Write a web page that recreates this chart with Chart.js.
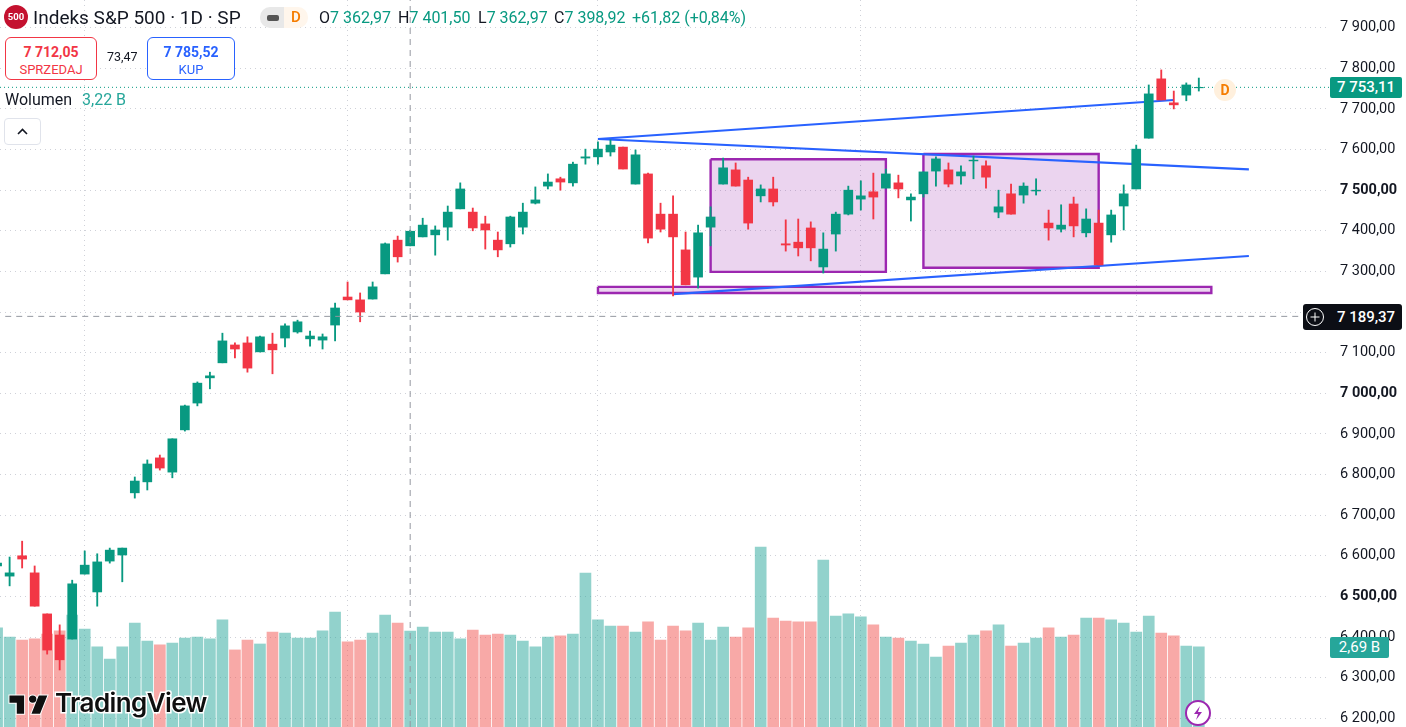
<!DOCTYPE html>
<html lang="pl">
<head>
  <meta charset="UTF-8">
  <title>Indeks S&amp;P 500 - 1D</title>
  <script src="https://cdn.jsdelivr.net/npm/chart.js"></script>
  <style>
    html, body { margin: 0; padding: 0; background: #fff; overflow: hidden; }
    #wrap { position: relative; width: 1406px; height: 727px; font-family: Roboto, sans-serif; color: #131722; }
    canvas { position: absolute; left: 0; top: 0; }
    .t { position: absolute; white-space: nowrap; line-height: 1; }
    .g { color: #089981; }
    .box { position: absolute; top: 37px; height: 41px; border: 1px solid; border-radius: 6px; background: #fff; text-align: center; box-sizing: content-box; }
    .box b { display: block; font-size: 14px; margin-top: 6px; line-height: 16px; }
    .box span { display: block; font-size: 13px; margin-top: 2px; line-height: 15px; }
    .badge { position: absolute; color: #fff; font-size: 15px; text-align: center; }
  </style>
</head>
<body>
<div id="wrap">
  <canvas id="chart" width="1406" height="727"></canvas>

  <!-- symbol row -->
  <div style="position:absolute;left:4px;top:5px;width:24px;height:24px;border-radius:50%;background:#c4112f;color:#fff;font-size:9.5px;font-weight:700;text-align:center;line-height:24px;">500</div>
  <div class="t" style="left:33px;top:8px;font-size:19px;">Indeks S&amp;P 500 · 1D · SP</div>
  <div style="position:absolute;left:260px;top:7px;width:24px;height:21px;background:#e8e8e8;border-radius:10px 0 0 10px;"></div>
  <div style="position:absolute;left:267px;top:15px;width:12px;height:6px;background:#555;border-radius:2px;"></div>
  <div style="position:absolute;left:284px;top:7px;width:24px;height:21px;background:#fff6ec;border-radius:0 10px 10px 0;"></div>
  <div class="t" style="left:291px;top:10px;font-size:15px;font-weight:500;color:#f57c00;">D</div>
  <div class="t" style="left:319px;top:10px;font-size:16px;">O<span class="g">7 362,97</span></div>
  <div class="t" style="left:398px;top:10px;font-size:16px;">H<span class="g">7 401,50</span></div>
  <div class="t" style="left:478px;top:10px;font-size:16px;">L<span class="g">7 362,97</span></div>
  <div class="t" style="left:554px;top:10px;font-size:16px;">C<span class="g">7 398,92</span></div>
  <div class="t g" style="left:632px;top:10px;font-size:16px;">+61,82 (+0,84%)</div>

  <!-- buy / sell -->
  <div class="box" style="left:5px;width:90px;border-color:#f23645;color:#f23645;"><b>7 712,05</b><span>SPRZEDAJ</span></div>
  <div class="t" style="left:107px;top:51px;font-size:12.5px;">73,47</div>
  <div class="box" style="left:147px;width:86px;border-color:#2962ff;color:#2962ff;"><b>7 785,52</b><span>KUP</span></div>

  <div class="t" style="left:5px;top:92px;font-size:16px;">Wolumen</div>
  <div class="t" style="left:82px;top:92px;font-size:16px;color:#26a69a;">3,22 B</div>
  <div style="position:absolute;left:4px;top:118px;width:35px;height:25px;border:1px solid #e0e3eb;border-radius:4px;background:#fff;">
    <svg width="35" height="25"><path d="M13 15l4.5-4.5L22 15" fill="none" stroke="#131722" stroke-width="1.6"/></svg>
  </div>

  <!-- session marker -->
  <div style="position:absolute;left:1214px;top:79px;width:22px;height:22px;border-radius:50%;background:#fff0dd;color:#f57c00;font-size:14px;font-weight:700;text-align:center;line-height:22px;">D</div>

  <!-- price axis badges -->
  <div class="badge" style="left:1330px;top:77px;width:72px;height:21px;line-height:21px;background:#089981;border-radius:2px;font-weight:500;">7 753,11</div>
  <div class="badge" style="left:1303px;top:304px;width:99px;height:26px;line-height:26px;background:#0c0e15;border-radius:3px;font-weight:500;padding-left:27px;box-sizing:border-box;">7 189,37</div>
  <svg style="position:absolute;left:1305px;top:307px;" width="20" height="20"><circle cx="10" cy="10" r="8.5" fill="none" stroke="#fff"/><path d="M10 5.5v9M5.5 10h9" stroke="#fff"/></svg>
  <div class="badge" style="left:1330px;top:637px;width:59px;height:21px;line-height:21px;background:#26a69a;border-radius:2px;">2,69 B</div>

  <!-- logo -->
  <svg style="position:absolute;left:7px;top:690px;" width="44" height="28" viewBox="0 0 36 22"><path d="M14 4H2v6h6v9h6V4zm13 15h-7l6-15h7l-6 15zm-6-9a3 3 0 1 0 0-6 3 3 0 0 0 0 6z" fill="#0f0f0f" stroke="#fff" stroke-width="1.6" paint-order="stroke"/></svg>
  <div class="t" style="left:55px;top:690px;font-family:Inter,sans-serif;font-size:26px;font-weight:600;letter-spacing:-0.6px;color:#0f0f0f;-webkit-text-stroke:3px #fff;paint-order:stroke fill;">TradingView</div>

  <!-- lightning -->
  <svg style="position:absolute;left:1184px;top:699px;" width="28" height="28"><circle cx="14" cy="14" r="12" fill="#fff" stroke="#9c27b0" stroke-width="2"/><path d="M16 7l-6 8h4l-2 6 6-8h-4z" fill="#9c27b0"/></svg>
</div>

<script>
  const opens = [6575,6550,6600,6558,6457,6405,6395,6555,6511,6587,6602,6755,6782,6841,6806,6910,6976,7038,7075,7119,7124,7102,7121,7136,7151,7134,7131,7168,7237,7230,7232,7294,7377,7362.97,7385,7390,7409,7454,7446,7417,7377,7368,7409,7468,7510,7528,7518,7579,7582,7594,7606,7515,7540,7441,7441,7353,7286,7409,7515,7550,7525,7486,7503,7368,7372,7407,7311,7392,7441,7478,7496,7505,7518,7476,7491,7547,7550,7535,7572,7560,7446,7491,7488,7498,7419,7404,7466,7395,7419,7390,7461,7503,7628,7774,7715,7734,7752];
  const highs = [6590,6597,6636,6575,6457,6430,6540,6612,6605,6619,6619,6794,6836,6848,6888,6971,7028,7052,7148,7124,7139,7141,7148,7171,7180,7153,7146,7222,7274,7247,7274,7370,7387,7401.5,7431,7412,7461,7518,7456,7436,7397,7436,7468,7508,7540,7532,7569,7601,7619,7624,7606,7599,7542,7468,7486,7397,7414,7459,7579,7567,7532,7513,7532,7427,7429,7422,7395,7446,7510,7523,7542,7552,7537,7491,7545,7582,7567,7560,7584,7572,7500,7515,7518,7528,7451,7464,7483,7454,7451,7451,7513,7611,7759,7796,7744,7764,7776];
  const lows = [6565,6526,6570,6476,6358,6319,6395,6555,6476,6582,6536,6742,6762,6811,6792,6907,6969,7011,7075,7087,7052,7102,7048,7114,7148,7116,7109,7129,7230,7176,7232,7294,7323,7362.97,7385,7340,7377,7454,7400,7355,7336,7360,7392,7466,7503,7500,7510,7564,7564,7584,7552,7515,7370,7397,7240,7267,7259,7363,7515,7510,7404,7471,7461,7350,7338,7326,7296,7350,7439,7451,7429,7505,7481,7424,7483,7510,7508,7515,7528,7505,7432,7441,7468,7488,7377,7397,7385,7385,7316,7372,7402,7503,7628,7722,7700,7720,7744];
  const closes = [6582,6558,6592,6476,6368,6344,6531,6577,6585,6614,6619,6784,6826,6816,6888,6969,7025,7043,7129,7109,7062,7139,7107,7166,7176,7141,7139,7210,7230,7200,7262,7368,7336,7398.92,7414,7402,7446,7503,7407,7402,7353,7434,7446,7476,7520,7520,7564,7582,7601,7611,7552,7587,7382,7404,7385,7267,7395,7434,7555,7510,7419,7503,7471,7365,7358,7358,7355,7441,7500,7486,7483,7540,7503,7483,7545,7577,7515,7545,7574,7532,7459,7441,7510,7500,7407,7414,7412,7429,7316,7439,7491,7601,7737,7722,7710,7759,7753.11];
  const volumes = [3.33,3.02,2.92,2.96,3.12,3.23,3.76,3.29,2.69,2.28,2.69,3.49,2.89,2.76,2.82,2.99,3.02,2.96,3.60,2.59,2.92,2.79,3.19,3.16,2.99,2.99,3.23,3.86,2.86,2.92,3.16,3.76,3.49,3.22,3.36,3.19,3.19,2.96,3.26,3.09,3.12,3.09,2.89,2.69,3.02,3.06,3.12,5.17,3.60,3.39,3.39,3.19,3.53,2.92,3.39,3.23,3.49,2.92,3.36,3.02,3.33,6.05,3.66,3.56,3.53,3.53,5.61,3.73,3.80,3.70,3.43,3.02,2.99,2.89,2.79,2.35,2.72,2.82,3.09,3.23,3.43,2.72,2.82,2.99,3.33,3.02,3.09,3.66,3.66,3.60,3.49,3.19,3.73,3.16,3.06,2.72,2.69];

  const priceTicks = [7900,7800,7700,7600,7500,7400,7300,7200,7100,7000,6900,6800,6700,6600,6500,6400,6300,6200];
  const priceLabels = ['7 900,00','7 800,00','7 700,00','7 600,00','7 500,00','7 400,00','7 300,00','7 200,00','7 100,00','7 000,00','6 900,00','6 800,00','6 700,00','6 600,00','6 500,00','6 400,00','6 300,00','6 200,00'];
  const timeTicks = [7,28,48,69,91];

  const lastPrice = 7753.11;
  const crossPrice = 7189.37;
  const crossBar = 33;

  // drawings, as [bar index, price]
  const upperLine = [[48,7626],[94,7722]];
  const fallingLine = [[48,7626],[100,7551]];
  const lowerLine = [[54,7244],[100,7338]];
  const boxLeft = [[57,7576],[71,7576],[71,7299],[57,7299],[57,7576]];
  const boxRight = [[74,7589],[88,7589],[88,7309],[74,7309],[74,7589]];
  const boxFloor = [[48,7262],[97,7262],[97,7247],[48,7247],[48,7262]];

  const UP = '#089981', DOWN = '#f23645';
  const candleColor = opens.map((o, i) => closes[i] >= o ? UP : DOWN);
  const volumeColor = opens.map((o, i) => closes[i] >= o ? 'rgba(38,166,154,0.5)' : 'rgba(242,83,80,0.5)');

  const XMIN = 0.232, XMAX = 106.48;
  const pts = arr => arr.map(p => ({ x: p[0], y: p[1] }));

  function lineSet(arr, color, width, order, extra) {
    return Object.assign({
      type: 'line', data: pts(arr), borderColor: color, borderWidth: width,
      pointRadius: 0, tension: 0, order: order, yAxisID: 'y'
    }, extra || {});
  }
  function boxSet(arr) {
    return lineSet(arr, '#9c27b0', 2.4, 8, { fill: 'shape', backgroundColor: 'rgba(156,39,176,0.2)', borderJoinStyle: 'miter' });
  }

  new Chart(document.getElementById('chart'), {
    type: 'bar',
    data: {
      datasets: [
        { data: volumes.map((v, i) => ({ x: i, y: v })), backgroundColor: volumeColor, barThickness: 11, yAxisID: 'yv', order: 10, grouped: false },
        boxSet(boxLeft), boxSet(boxRight), boxSet(boxFloor),
        lineSet(upperLine, '#2962ff', 2.2, 7),
        lineSet(fallingLine, '#2962ff', 2.2, 7),
        lineSet(lowerLine, '#2962ff', 2.2, 7),
        lineSet([[XMIN, lastPrice],[XMAX, lastPrice]], UP, 1, 6, { borderDash: [1, 3] }),
        { data: opens.map((o, i) => ({ x: i, y: [lows[i], highs[i]] })), backgroundColor: candleColor, barThickness: 1.2, yAxisID: 'y', order: 4, grouped: false },
        { data: opens.map((o, i) => ({ x: i, y: [o, closes[i]] })), backgroundColor: candleColor, barThickness: 9, yAxisID: 'y', order: 3, grouped: false },
        lineSet([[0.65, crossPrice],[XMAX, crossPrice]], '#9598a1', 1, 1, { borderDash: [6, 5] }),
        lineSet([[crossBar, 6178.6],[crossBar, 7968.1]], '#9598a1', 1, 1, { borderDash: [6, 5] })
      ]
    },
    options: {
      responsive: false,
      animation: false,
      events: [],
      layout: { padding: 0, autoPadding: false },
      plugins: { legend: { display: false }, tooltip: { enabled: false } },
      scales: {
        x: {
          type: 'linear', min: XMIN, max: XMAX, offset: false, bounds: 'data',
          afterBuildTicks: s => { s.ticks = timeTicks.map(v => ({ value: v })); },
          afterFit: s => { s.height = 0; },
          ticks: { display: false },
          grid: { color: '#cfd1d8', drawTicks: false, offset: false },
          border: { display: false, dash: [1, 4] }
        },
        y: {
          position: 'right', min: 6178.6, max: 7968.1, bounds: 'data',
          afterBuildTicks: s => { s.ticks = priceTicks.map(v => ({ value: v })); },
          afterFit: s => { s.width = 76; s.paddingTop = 0; s.paddingBottom = 0; },
          ticks: {
            color: '#131722', padding: 10, mirror: false,
            font: c => ({ family: 'Roboto', size: 14.5, weight: c.tick && c.tick.value % 500 === 0 ? 'bold' : 'normal' }),
            callback: (v, i) => priceLabels[i]
          },
          grid: { color: '#cfd1d8', drawTicks: false },
          border: { display: false, dash: [1, 4] }
        },
        yv: { display: false, min: 0, max: 24.43 }
      }
    }
  });
</script>
</body>
</html>
